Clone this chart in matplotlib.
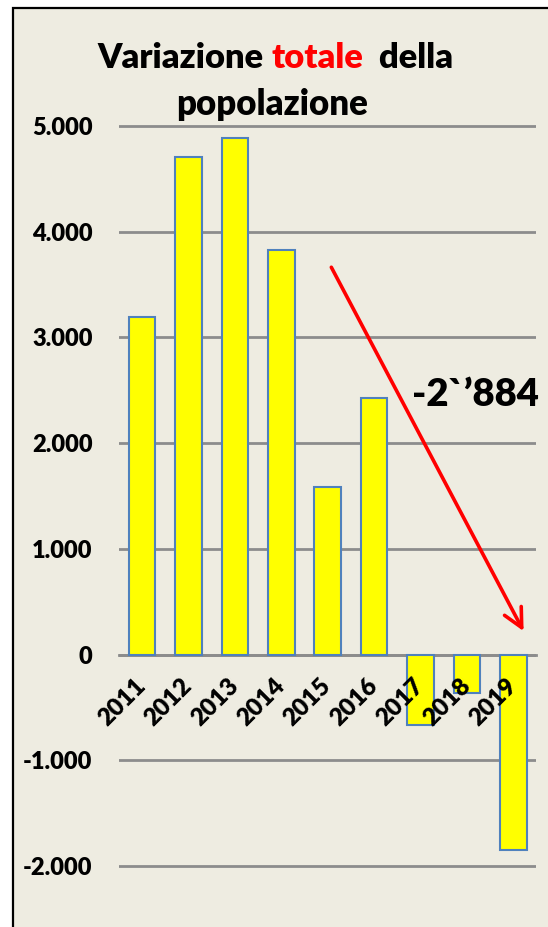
import matplotlib.pyplot as plt
import matplotlib.patches as mpatches
import matplotlib.transforms as mtransforms
import numpy as np

ANNI    = ["2011", "2012", "2013", "2014", "2015", "2016", "2017", "2018", "2019"]
VALORI  = [3195, 4704, 4884, 3828, 1581, 2426, -665, -368, -1851]
Y_TICKS = [-2000, -1000, 0, 1000, 2000, 3000, 4000, 5000]
Y_LABELS = ["-2.000", "-1.000", "0", "1.000", "2.000", "3.000", "4.000", "5.000"]
NOTA    = "-2`\u2019884"

SFONDO = "#EEECE1"
GIALLO = "#FFFF00"
BORDO  = "#4F81BD"
GRIGIO = "#8C8C8C"

plt.rcParams["font.family"] = ["Lato", "DejaVu Sans"]
plt.rcParams["font.weight"] = "bold"

fig = plt.figure(figsize=(5.48, 9.27), dpi=100)
fig.patch.set_facecolor("white")

# cornice del grafico
cornice = mpatches.Rectangle(
    (12.6 / 548, -0.05), 1.0, 1.05 - 7.7 / 927,
    transform=fig.transFigure, facecolor=SFONDO,
    edgecolor="black", linewidth=1.6, zorder=-5
)
fig.patches.append(cornice)

ax = fig.add_axes([0.217, 0.0601, 0.762, 0.8097])
ax.set_facecolor("none")

x = np.arange(len(ANNI))
ax.bar(x, VALORI, 0.57, color=GIALLO, edgecolor=BORDO, linewidth=1.5, zorder=3)

ax.set_xlim(-0.5, len(ANNI) - 0.5)
ax.set_ylim(-2050, 5050)

for s in ["top", "right", "left"]:
    ax.spines[s].set_visible(False)
ax.spines["bottom"].set_position(("data", 0))
ax.spines["bottom"].set_color(GRIGIO)
ax.spines["bottom"].set_linewidth(2)
ax.spines["bottom"].set_zorder(2)

ax.set_yticks(Y_TICKS)
ax.set_yticklabels(Y_LABELS, fontsize=17, fontweight="heavy")
ax.yaxis.grid(True, color=GRIGIO, linewidth=2, zorder=1)
ax.set_axisbelow(True)

ax.set_xticks(x)
ax.set_xticklabels(ANNI, rotation=45, ha="right", rotation_mode="anchor",
                   fontsize=17.5, fontweight="heavy")
ax.tick_params(axis="both", length=0)
ax.tick_params(axis="y", pad=19)
ax.tick_params(axis="x", pad=12)
# etichette degli anni sopra le barre
ax.xaxis.set_zorder(5)
sposta = mtransforms.ScaledTranslation(-0.08, -0.03, fig.dpi_scale_trans)
for lab in ax.get_xticklabels():
    lab.set_transform(lab.get_transform() + sposta)

# freccia e nota
ax.annotate("", xy=(8.25, 198), xytext=(4.05, 3687),
            arrowprops=dict(arrowstyle="->", color="red", lw=2.6,
                            mutation_scale=34), zorder=6)
ax.text(5.82, 2351, NOTA, fontsize=27.5, fontweight="heavy",
        ha="left", va="baseline", zorder=6)

# titolo su due righe con "totale" in rosso
t1 = fig.text(97 / 548, 1 - 68 / 927, "Variazione ", fontsize=24.8,
              fontweight="heavy", ha="left", va="baseline")
t2 = fig.text(0, 0, "totale", fontsize=24.8, fontweight="heavy", color="red",
              ha="left", va="baseline")
t3 = fig.text(0, 0, "  della", fontsize=24.8, fontweight="heavy",
              ha="left", va="baseline")
fig.canvas.draw()
r = fig.canvas.get_renderer()
bb = t1.get_window_extent(r)
t2.set_position((bb.x1 / fig.bbox.width, 1 - 68 / 927))
bb = t2.get_window_extent(r)
t3.set_position((bb.x1 / fig.bbox.width, 1 - 68 / 927))
fig.text(272 / 548, 1 - 115 / 927, "popolazione", fontsize=25,
         fontweight="heavy", ha="center", va="baseline")

plt.savefig("out.png", dpi=100, facecolor=fig.get_facecolor())
plt.close()
